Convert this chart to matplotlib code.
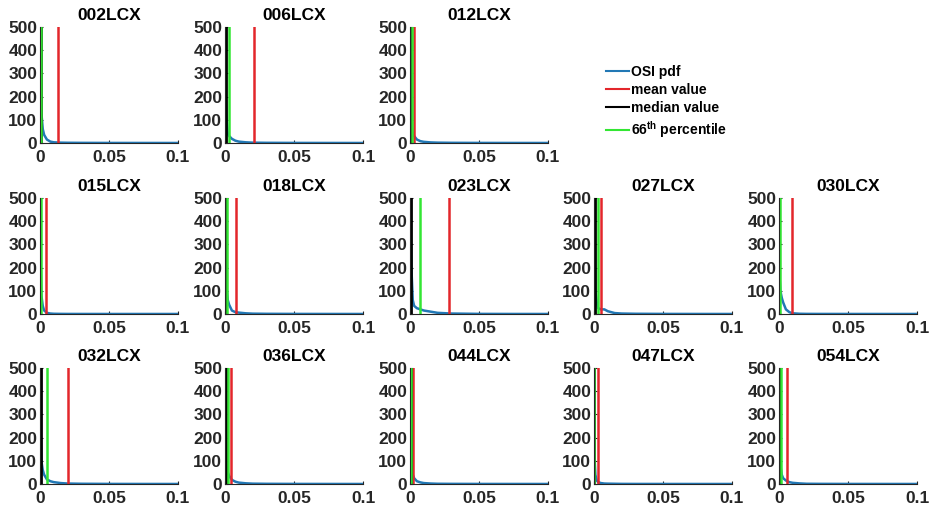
import numpy as np
import matplotlib
matplotlib.use("Agg")
import matplotlib.pyplot as plt
from matplotlib.lines import Line2D

plt.rcParams['font.family'] = ['Liberation Sans', 'DejaVu Sans']
plt.rcParams['font.weight'] = 'bold'
plt.rcParams['mathtext.fontset'] = 'custom'
plt.rcParams['mathtext.rm'] = 'Liberation Sans:bold'
plt.rcParams['mathtext.bf'] = 'Liberation Sans:bold'

# case names, in grid order (row 1 has only three cases)
cases = ['002LCX', '006LCX', '012LCX',
         '015LCX', '018LCX', '023LCX', '027LCX', '030LCX',
         '032LCX', '036LCX', '044LCX', '047LCX', '054LCX']

# OSI grid the pdf is sampled on
osi = [0, 0.0005, 0.001, 0.002, 0.003, 0.005, 0.0075, 0.01, 0.015, 0.02, 0.03, 0.05, 0.075, 0.1]

pdf = {
    '002LCX': [500, 300, 130, 60, 35, 15, 6, 3, 1.5, 1, 0.6, 0.3, 0.2, 0.1],
    '006LCX': [500, 200, 110, 40, 30, 18, 10, 6, 3, 1.5, 0.8, 0.4, 0.2, 0.1],
    '012LCX': [500, 200, 80, 45, 30, 15, 8, 5, 2.5, 1.5, 0.8, 0.4, 0.2, 0.1],
    '015LCX': [500, 200, 80, 35, 15, 5, 2, 1, 0.5, 0.3, 0.2, 0.1, 0.1, 0.1],
    '018LCX': [500, 280, 120, 60, 40, 15, 8, 6, 3, 1.5, 0.8, 0.4, 0.2, 0.1],
    '023LCX': [370, 350, 200, 60, 35, 25, 20, 15, 10, 5, 2, 0.5, 0.2, 0.1],
    '027LCX': [500, 350, 100, 50, 25, 20, 20, 12, 4, 2, 1, 0.4, 0.2, 0.1],
    '030LCX': [500, 150, 100, 70, 50, 20, 8, 3, 1, 0.5, 0.3, 0.2, 0.1, 0.1],
    '032LCX': [310, 220, 100, 60, 40, 20, 12, 8, 4, 2, 1, 0.4, 0.2, 0.1],
    '036LCX': [500, 150, 80, 50, 35, 18, 10, 6, 3, 1.5, 0.8, 0.4, 0.2, 0.1],
    '044LCX': [500, 200, 80, 40, 25, 12, 7, 4, 2, 1, 0.6, 0.3, 0.2, 0.1],
    '047LCX': [500, 100, 40, 15, 8, 4, 2, 1.5, 1, 0.5, 0.3, 0.2, 0.1, 0.1],
    '054LCX': [500, 200, 80, 40, 25, 15, 8, 5, 2.5, 1, 0.6, 0.3, 0.2, 0.1],
}

mean_val = [0.0133, 0.0207, 0.0030, 0.0046, 0.0077, 0.0280, 0.0053, 0.0092, 0.0203, 0.0041, 0.0025, 0.0027, 0.0058]
median_val = [0.0004, 0.0005, 0.0008, 0.0002, 0.0005, 0.0010, 0.0005, 0.0003, 0.0010, 0.0005, 0.0004, 0.0002, 0.0005]
p66_val = [0.0006, 0.0026, 0.0016, 0.0004, 0.0012, 0.0072, 0.0027, 0.0006, 0.0050, 0.0022, 0.0010, 0.0003, 0.0012]

blue = '#2278b5'
red = '#e3262b'
green = '#33e633'

W, H = 932, 511
fig = plt.figure(figsize=(W / 100, H / 100), dpi=100)

col_left = [40, 225, 410, 594, 779]
row_top = [27, 198, 368]
aw, ah = 138, 116

slots = [(0, 0), (0, 1), (0, 2)] + [(1, c) for c in range(5)] + [(2, c) for c in range(5)]

for i, name in enumerate(cases):
    r, c = slots[i]
    ax = fig.add_axes([col_left[c] / W, 1 - (row_top[r] + ah) / H, aw / W, ah / H])
    ax.plot(osi, pdf[name], color=blue, lw=1.8)
    ax.plot([mean_val[i]] * 2, [0, 500], color=red, lw=1.8)
    ax.plot([median_val[i]] * 2, [0, 500], color='k', lw=2.0)
    ax.plot([p66_val[i]] * 2, [0, 500], color=green, lw=1.8)
    ax.set_xlim(0, 0.1)
    ax.set_ylim(0, 500)
    ax.set_xticks([0, 0.05, 0.1])
    ax.set_xticklabels(['0', '0.05', '0.1'])
    ax.set_yticks([0, 100, 200, 300, 400, 500])
    ax.spines['top'].set_visible(False)
    ax.spines['right'].set_visible(False)
    for s in ('left', 'bottom'):
        ax.spines[s].set_color('#262626')
        ax.spines[s].set_linewidth(0.8)
    ax.tick_params(direction='in', length=2, width=0.8, colors='#262626',
                   labelsize=12.5, pad=2)
    ax.tick_params(axis='x', pad=5)
    for lab in ax.get_xticklabels() + ax.get_yticklabels():
        lab.set_fontweight('bold')
    ax.set_title(name, fontsize=12.5, fontweight='bold', pad=5)

handles = [Line2D([], [], color=blue, lw=1.5),
           Line2D([], [], color=red, lw=1.5),
           Line2D([], [], color='k', lw=1.5),
           Line2D([], [], color=green, lw=1.5)]
labels = ['OSI pdf', 'mean value', 'median value', r'66$^{\mathbf{th}}$ percentile']
fig.legend(handles, labels, loc='upper left', bbox_to_anchor=(593 / W, 1 - 52 / H),
           frameon=False, handlelength=1.7, handletextpad=0.15,
           labelspacing=0.3, prop={'weight': 'bold', 'size': 10})

fig.savefig('out.png', dpi=100)
